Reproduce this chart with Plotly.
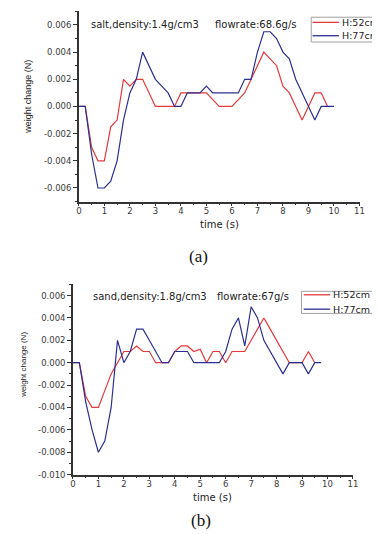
import plotly.graph_objects as go

# ---- data ----
t_a_red = [0, 0.25, 0.5, 0.75, 1.0, 1.25, 1.5, 1.75, 2.0, 2.25, 2.5, 2.75, 3.0, 3.25, 3.5, 3.75, 4.0, 4.25, 4.5, 4.75, 5.0, 5.25, 5.5, 5.75, 6.0, 6.25, 6.5, 6.75, 7.0, 7.25, 7.5, 7.75, 8.0, 8.25, 8.5, 8.75, 9.0, 9.25, 9.5, 9.75]
w_a_red = [0, 0, -0.003, -0.004, -0.004, -0.0015, -0.001, 0.002, 0.0015, 0.002, 0.002, 0.001, 0, 0, 0, 0, 0.001, 0.001, 0.001, 0.001, 0.001, 0.0005, 0, 0, 0, 0.0005, 0.001, 0.002, 0.003, 0.004, 0.0035, 0.003, 0.0015, 0.001, 0, -0.001, 0, 0.001, 0.001, 0]

t_a_blue = [0, 0.25, 0.5, 0.75, 1.0, 1.25, 1.5, 1.75, 2.0, 2.25, 2.5, 2.75, 3.0, 3.25, 3.5, 3.75, 4.0, 4.25, 4.5, 4.75, 5.0, 5.25, 5.5, 5.75, 6.0, 6.25, 6.5, 6.75, 7.0, 7.25, 7.5, 7.75, 8.0, 8.25, 8.5, 8.75, 9.0, 9.25, 9.5, 9.75, 10.0]
w_a_blue = [0, 0, -0.0035, -0.006, -0.006, -0.0055, -0.004, -0.001, 0.001, 0.002, 0.004, 0.003, 0.002, 0.0015, 0.001, 0, 0, 0.001, 0.001, 0.001, 0.0015, 0.001, 0.001, 0.001, 0.001, 0.001, 0.002, 0.002, 0.004, 0.0055, 0.0055, 0.005, 0.004, 0.0035, 0.002, 0.001, 0, -0.001, 0, 0, 0]

t_b_red = [0, 0.25, 0.5, 0.75, 1.0, 1.25, 1.5, 1.75, 2.0, 2.25, 2.5, 2.75, 3.0, 3.25, 3.5, 3.75, 4.0, 4.25, 4.5, 4.75, 5.0, 5.25, 5.5, 5.75, 6.0, 6.25, 6.5, 6.75, 7.0, 7.25, 7.5, 7.75, 8.0, 8.25, 8.5, 8.75, 9.0, 9.25, 9.5]
w_b_red = [0, 0, -0.003, -0.004, -0.004, -0.0025, -0.001, 0, 0.001, 0.001, 0.0015, 0.001, 0.001, 0, 0, 0, 0.001, 0.0015, 0.0015, 0.001, 0.0012, 0, 0.001, 0.001, 0, 0.001, 0.001, 0.001, 0.002, 0.003, 0.004, 0.003, 0.002, 0.001, 0, 0, 0, 0.001, 0]

t_b_blue = [0, 0.25, 0.5, 0.75, 1.0, 1.25, 1.5, 1.75, 2.0, 2.25, 2.5, 2.75, 3.0, 3.25, 3.5, 3.75, 4.0, 4.25, 4.5, 4.75, 5.0, 5.25, 5.5, 5.75, 6.0, 6.25, 6.5, 6.75, 7.0, 7.25, 7.5, 7.75, 8.0, 8.25, 8.5, 8.75, 9.0, 9.25, 9.5, 9.75]
w_b_blue = [0, 0, -0.0035, -0.006, -0.008, -0.007, -0.004, 0.002, 0, 0.001, 0.003, 0.003, 0.002, 0.001, 0, 0, 0.001, 0.001, 0.001, 0, 0, 0, 0, 0, 0.001, 0.003, 0.004, 0.0015, 0.005, 0.004, 0.002, 0.001, 0, -0.001, 0, 0, 0, -0.001, 0, 0]

series_names = ["H:52cm", "H:77cm"]
x_ticks = list(range(0, 12))
ya_ticks = [-0.006, -0.004, -0.002, 0.0, 0.002, 0.004, 0.006]
yb_ticks = [-0.010, -0.008, -0.006, -0.004, -0.002, 0.0, 0.002, 0.004, 0.006]

RED = "#e6393b"
BLUE = "#2c2f92"
WIDE = "DejaVu Sans, Verdana, sans-serif"
NARROW = "Liberation Sans, Arial, sans-serif"
SERIF = "Liberation Serif, Times New Roman, serif"
TICKCOL = "#3a3a3a"
W, H = 380, 534

def px(x):
    return x / W

def py(y):
    return 1 - y / H

fig = go.Figure()
fig.add_trace(go.Scatter(x=t_a_red, y=w_a_red, mode="lines", name=series_names[0],
                         line=dict(color=RED, width=1.2), xaxis="x", yaxis="y"))
fig.add_trace(go.Scatter(x=t_a_blue, y=w_a_blue, mode="lines", name=series_names[1],
                         line=dict(color=BLUE, width=1.2), xaxis="x", yaxis="y"))
fig.add_trace(go.Scatter(x=t_b_red, y=w_b_red, mode="lines", name=series_names[0],
                         line=dict(color=RED, width=1.2), xaxis="x2", yaxis="y2"))
fig.add_trace(go.Scatter(x=t_b_blue, y=w_b_blue, mode="lines", name=series_names[1],
                         line=dict(color=BLUE, width=1.2), xaxis="x2", yaxis="y2"))

def xax(domain, anchor):
    return dict(domain=domain, anchor=anchor, range=[0, 11], tickvals=x_ticks,
                showgrid=False, zeroline=False, showline=True, linecolor="#333", linewidth=1.5,
                ticks="outside", ticklen=3, tickwidth=1, tickcolor="#333",
                ticklabelstandoff=-3,
                minor=dict(ticks="outside", ticklen=2, dtick=0.5, tickcolor="#333"),
                tickfont=dict(family=WIDE, size=8.5, color=TICKCOL))

def yax(domain, anchor, rng, tv):
    return dict(domain=domain, anchor=anchor, range=rng, tickvals=tv,
                ticktext=[f"{v:.3f}" for v in tv],
                showgrid=False, zeroline=False, showline=True, linecolor="#333", linewidth=1.5,
                ticks="outside", ticklen=4, tickwidth=1, tickcolor="#333",
                minor=dict(ticks="outside", ticklen=2, dtick=0.001, tickcolor="#333"),
                tickfont=dict(family=WIDE, size=8.5, color=TICKCOL))

fig.update_layout(
    width=W, height=H,
    margin=dict(l=0, r=0, t=0, b=0),
    paper_bgcolor="white", plot_bgcolor="white",
    showlegend=False,
    xaxis=xax([px(69.3), px(356)], "y"),
    yaxis=yax([py(195.4), py(3.4)], "x", [-0.007, 0.007], ya_ticks),
    xaxis2=xax([px(63.3), px(349.3)], "y2"),
    yaxis2=yax([py(471), py(279)], "x2", [-0.010, 0.007], yb_ticks),
)

# legend boxes (one per panel): box, line samples, labels
legends = [
    dict(box=(306.7, 9.3, 386, 34.3), lx=(308, 335), ly=(14.5, 28.0), tx=337.5),
    dict(box=(296.7, 286.0, 372.7, 308.3), lx=(299, 326), ly=(289.5, 304.0), tx=327.5),
]
for lg in legends:
    x0, y0, x1, y1 = lg["box"]
    fig.add_shape(type="rect", xref="paper", yref="paper", x0=px(x0), x1=px(x1), y0=py(y1), y1=py(y0),
                  line=dict(color="#a0a0a0", width=1), fillcolor="rgba(0,0,0,0)", layer="below")
    for name, col, yy in zip(series_names, [RED, BLUE], lg["ly"]):
        fig.add_shape(type="line", xref="paper", yref="paper", x0=px(lg["lx"][0]), x1=px(lg["lx"][1]),
                      y0=py(yy), y1=py(yy), line=dict(color=col, width=1.3), layer="above")
        fig.add_annotation(text=name, xref="paper", yref="paper", x=px(lg["tx"]), y=py(yy),
                           xanchor="left", yanchor="middle", showarrow=False, borderpad=0,
                           font=dict(family=WIDE, size=9.5, color="#222"))

ann = [
    dict(text="salt,density:1.4g/cm3", x=px(79.5), y=py(17), xanchor="left", font=dict(family=WIDE, size=10)),
    dict(text="flowrate:68.6g/s", x=px(206.5), y=py(17), xanchor="left", font=dict(family=WIDE, size=10)),
    dict(text="sand,density:1.8g/cm3", x=px(81.5), y=py(291), xanchor="left", font=dict(family=WIDE, size=10)),
    dict(text="flowrate:67g/s", x=px(208), y=py(291), xanchor="left", font=dict(family=WIDE, size=10)),
    dict(text="weight change (N)", x=px(18), y=py(90), textangle=-90, xanchor="center",
         font=dict(family=NARROW, size=9)),
    dict(text="weight change (N)", x=px(12.5), y=py(360), textangle=-90, xanchor="center",
         font=dict(family=NARROW, size=8)),
    dict(text="time (s)", x=px(212.5), y=py(219), xanchor="center", font=dict(family=WIDE, size=10)),
    dict(text="time (s)", x=px(206), y=py(494), xanchor="center", font=dict(family=WIDE, size=10)),
    dict(text="(a)", x=px(192), y=py(251), xanchor="center", font=dict(family=SERIF, size=17, color="#111")),
    dict(text="(b)", x=px(194), y=py(517), xanchor="center", font=dict(family=SERIF, size=17, color="#111")),
]
for a in ann:
    a["font"].setdefault("color", "#222")
    fig.add_annotation(xref="paper", yref="paper", showarrow=False, yanchor="middle", **a)

fig.write_html("out.html")
